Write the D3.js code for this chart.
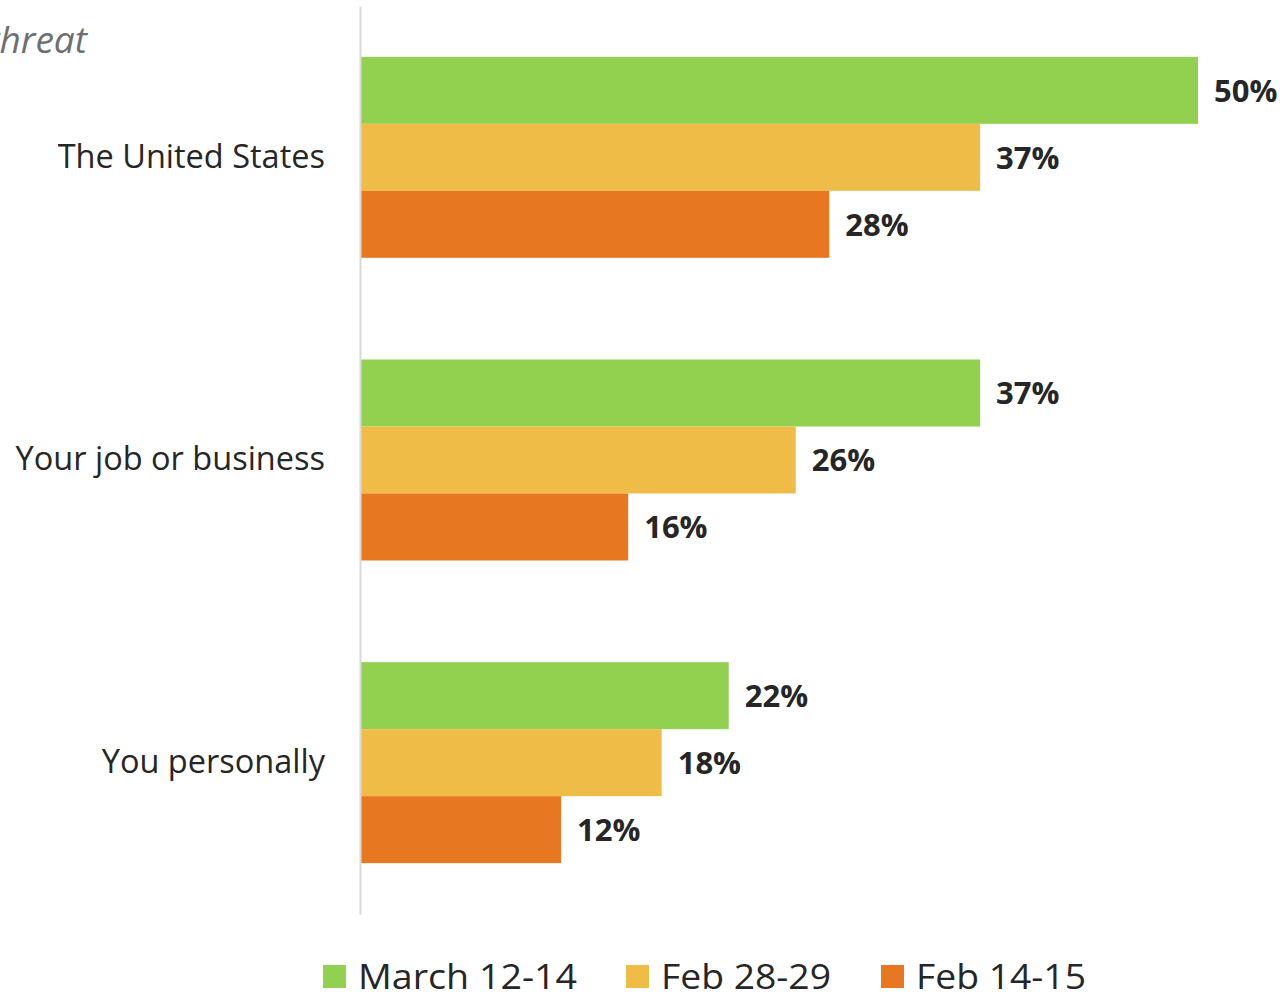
<!DOCTYPE html>
<html>
<head>
<meta charset="utf-8">
<script src="https://cdn.jsdelivr.net/npm/d3@7"></script>
<style>
  body { margin: 0; background: #fff; }
  svg { display: block; }
</style>
</head>
<body>
<div id="chart"></div>
<script>
const categories = ["The United States", "Your job or business", "You personally"];
const seriesNames = ["March 12-14", "Feb 28-29", "Feb 14-15"];
const march1214 = [50, 37, 22];
const feb2829 = [37, 26, 18];
const feb1415 = [28, 16, 12];
const titleText = "threat";

(function() {
    const dimension = {
        width: 1284,
        height: 995,
        axisX: 360,
        top: 6,
        bottom: 914
    };
    const colors = ["#92d050", "#f0bc48", "#e87722"];
    const seriesValues = [march1214, feb2829, feb1415];
    const font = "'Open Sans', Calibri, sans-serif";

    const svg = d3.select("#chart").append("svg")
        .attr("width", dimension.width)
        .attr("height", dimension.height)
        .style("font-family", font);

    const xScaler = d3.scaleLinear()
        .domain([0, 50])
        .range([dimension.axisX, 1198]);

    const yScaler = d3.scaleBand()
        .domain(categories)
        .range([dimension.top, dimension.bottom])
        .paddingInner(0.336)
        .paddingOuter(0.168);

    const subScaler = d3.scaleBand()
        .domain(seriesNames)
        .range([0, yScaler.bandwidth()]);

    // title (cropped at the left edge in the original)
    svg.append("text")
        .attr("x", 87)
        .attr("y", 53)
        .attr("text-anchor", "end")
        .attr("font-size", 37)
        .attr("font-style", "italic")
        .attr("fill", "#6f6f6f")
        .text(titleText);

    const groups = svg.selectAll("g.group")
        .data(categories)
        .join("g")
        .attr("class", "group")
        .attr("transform", d => `translate(0, ${yScaler(d)})`);

    groups.selectAll("rect")
        .data((d, i) => seriesNames.map((s, j) => ({ s, v: seriesValues[j][i], c: colors[j] })))
        .join("rect")
        .attr("x", xScaler(0))
        .attr("y", d => subScaler(d.s))
        .attr("width", d => xScaler(d.v) - xScaler(0))
        .attr("height", subScaler.bandwidth())
        .attr("fill", d => d.c);

    groups.selectAll("text.val")
        .data((d, i) => seriesNames.map((s, j) => ({ s, v: seriesValues[j][i] })))
        .join("text")
        .attr("class", "val")
        .attr("x", d => xScaler(d.v) + 16)
        .attr("y", d => subScaler(d.s) + subScaler.bandwidth() / 2)
        .attr("dy", "0.37em")
        .attr("font-size", 31)
        .attr("font-weight", "bold")
        .attr("fill", "#262626")
        .text(d => d.v + "%");

    // category axis
    const yAxis = d3.axisLeft(yScaler).tickSize(0).tickPadding(35);
    const axisG = svg.append("g")
        .attr("transform", `translate(${dimension.axisX}, 0)`)
        .call(yAxis);
    axisG.select(".domain")
        .attr("stroke", "#d9d9d9")
        .attr("stroke-width", 2);
    axisG.selectAll(".tick text")
        .attr("font-size", 32.5)
        .attr("font-family", font)
        .attr("fill", "#262626");

    // legend
    const legendX = [323, 626, 881];
    const legend = svg.selectAll("g.legend")
        .data(seriesNames)
        .join("g")
        .attr("class", "legend")
        .attr("transform", (d, i) => `translate(${legendX[i]}, 965)`);
    legend.append("rect")
        .attr("width", 23)
        .attr("height", 23)
        .attr("fill", (d, i) => colors[i]);
    legend.append("text")
        .attr("x", 35)
        .attr("y", 24)
        .attr("font-size", 35)
        .attr("fill", "#262626")
        .attr("textLength", (d, i) => [219, 170, 170][i])
        .attr("lengthAdjust", "spacingAndGlyphs")
        .text(d => d);
})();
</script>
</body>
</html>
